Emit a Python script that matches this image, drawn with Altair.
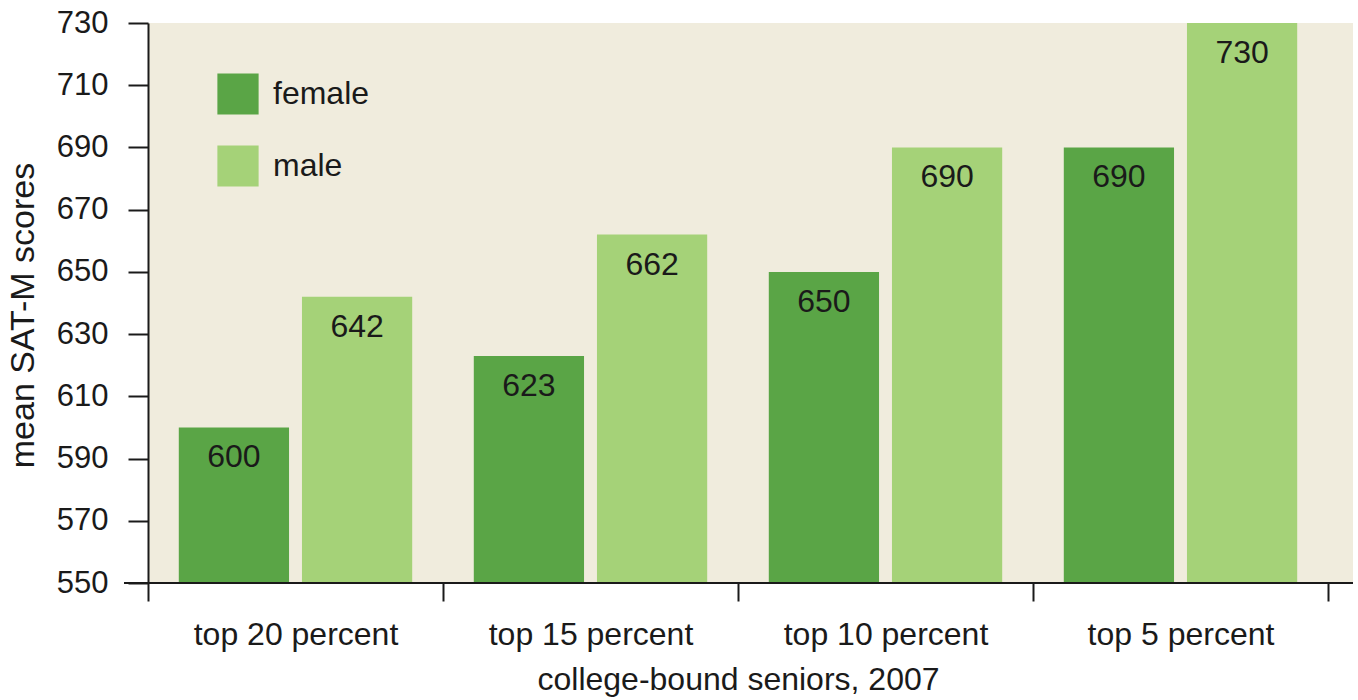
import altair as alt
import pandas as pd

# Mean SAT-M scores of college-bound seniors (2007), by percentile group and sex
groups = ["top 20 percent", "top 15 percent", "top 10 percent", "top 5 percent"]
female = [600, 623, 650, 690]
male = [642, 662, 690, 730]
sexes = ["female", "male"]
sex_colors = ["#5AA546", "#A5D278"]
y_ticks = [550, 570, 590, 610, 630, 650, 670, 690, 710, 730]

rows = []
for g, f, m in zip(groups, female, male):
    rows.append({"group": g, "sex": "female", "score": f})
    rows.append({"group": g, "sex": "male", "score": m})
df = pd.DataFrame(rows)

W, H = 1205, 560          # plot panel
BAND_END = 1180           # the four category bands end before the panel edge
FONT = "Liberation Sans"
INK = "#1a1a1a"

x_enc = alt.X(
    "group:N",
    sort=groups,
    scale=alt.Scale(range=[0, BAND_END], paddingInner=0, paddingOuter=0),
    axis=alt.Axis(
        title="college-bound seniors, 2007",
        tickBand="extent",
        domain=False,
        tickSize=18,
        tickWidth=2,
        tickColor=INK,
        labelAngle=0,
        labelLimit=0,
        labelFontSize=32,
        labelPadding=18,
        labelColor=INK,
        titleFontSize=32,
        titleFontWeight="normal",
        titleColor=INK,
        titlePadding=14,
    ),
)
y_enc = alt.Y(
    "score:Q",
    scale=alt.Scale(domain=[y_ticks[0], y_ticks[-1]], zero=False, nice=False),
    axis=alt.Axis(
        values=y_ticks,
        title="mean SAT-M scores",
        grid=False,
        domainColor=INK,
        domainWidth=2,
        tickSize=20,
        tickWidth=2,
        tickColor=INK,
        labelFontSize=31,
        labelPadding=20,
        labelColor=INK,
        titleFontSize=34,
        titleFontWeight="normal",
        titleColor=INK,
        titlePadding=16,
        titleY=292,
    ),
)
x_off = alt.XOffset(
    "sex:N", sort=sexes, scale=alt.Scale(paddingInner=0.105, paddingOuter=0.25)
)

bars = alt.Chart(df).mark_bar().encode(
    x=x_enc,
    xOffset=x_off,
    y=y_enc,
    y2=alt.datum(y_ticks[0]),
    color=alt.Color(
        "sex:N",
        sort=sexes,
        scale=alt.Scale(domain=sexes, range=sex_colors),
        legend=alt.Legend(
            title=None,
            orient="none",
            legendX=69,
            legendY=50,
            padding=0,
            symbolType="square",
            symbolSize=1700,
            symbolStrokeWidth=0,
            symbolOpacity=1,
            labelFontSize=32,
            labelColor=INK,
            labelOffset=14,
            rowPadding=30,
        ),
    ),
)

labels = alt.Chart(df).mark_text(
    baseline="alphabetic", dy=40, fontSize=32, color=INK
).encode(
    x=alt.X("group:N", sort=groups),
    xOffset=alt.XOffset("sex:N", sort=sexes),
    y=alt.Y("score:Q"),
    text=alt.Text("score:Q"),
)

baseline = alt.Chart(pd.DataFrame({"v": [0]})).mark_rule(
    color=INK, strokeWidth=2
).encode(x=alt.value(-24), x2=alt.value(W), y=alt.value(H))

chart = (
    alt.layer(bars, labels, baseline)
    .properties(
        width=W,
        height=H,
        autosize=alt.AutoSizeParams(type="none"),
        padding={"left": 148, "top": 23, "right": 5, "bottom": 117},
    )
    .configure(font=FONT)
    .configure_view(fill="#F0ECDD", stroke=None)
)

chart.save("out.html", embed_options={"renderer": "svg", "actions": False})
